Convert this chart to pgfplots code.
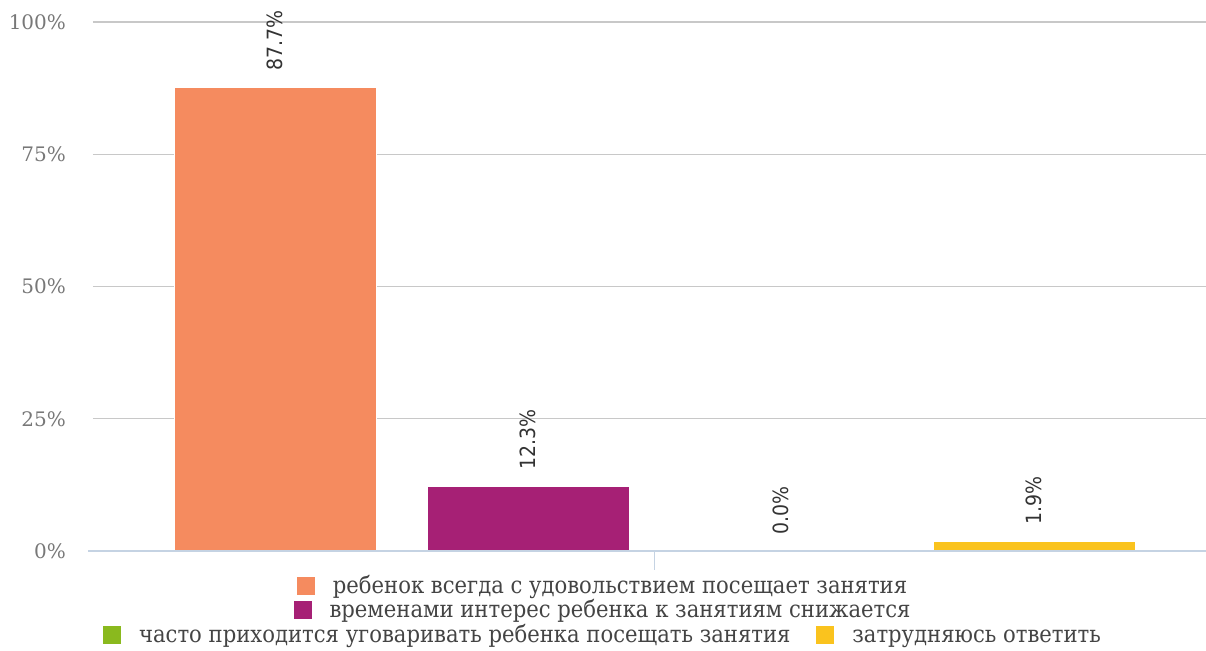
\documentclass[border=0pt]{standalone}
\usepackage{fontspec}
\setmainfont{DejaVu Serif}
\newfontfamily\legfont{DejaVu Serif Condensed}
\newfontfamily\labfont{DejaVu Sans Condensed}
\usepackage{pgfplots}
\pgfplotsset{compat=1.18}
\definecolor{c1}{RGB}{245,139,95}
\definecolor{c2}{RGB}{166,32,117}
\definecolor{c3}{RGB}{138,185,30}
\definecolor{c4}{RGB}{250,195,30}
\definecolor{gridc}{RGB}{200,200,200}
\definecolor{basec}{RGB}{197,211,227}
\definecolor{tickc}{RGB}{120,120,120}
\definecolor{labc}{RGB}{51,51,51}
\definecolor{legc}{RGB}{68,68,68}
\begin{document}
\begin{tikzpicture}
\useasboundingbox (0,0) rectangle (603pt,325pt);
\begin{axis}[
  at={(46.5pt,49.5pt)}, anchor=south west,
  scale only axis, width=556.5pt, height=264.5pt,
  xmin=-0.72, xmax=3.68, ymin=0, ymax=100,
  axis line style={draw=none},
  xtick=\empty,
  ytick={0,25,50,75,100},
  yticklabels={0\%,25\%,50\%,75\%,100\%},
  ytick style={draw=none},
  yticklabel style={font=\fontsize{10}{12}\selectfont, color=tickc, xshift=-10pt},
  /pgf/number format/assume math mode=true,
  ymajorgrids, grid style={gridc, line width=0.6pt},
  clip=false,
  nodes near coords={\pgfmathprintnumber[fixed,fixed zerofill,precision=1]{\pgfplotspointmeta}\%},
  every node near coord/.style={yshift=8pt, rotate=90, anchor=west, inner sep=0pt,
     font=\labfont\fontsize{10.5}{12}\selectfont, color=labc},
]
\addplot[ybar, bar width=0.8, fill=c1, draw=white, line width=0.3pt] coordinates {(0,87.7)};
\addplot[ybar, bar width=0.8, fill=c2, draw=white, line width=0.3pt] coordinates {(1,12.3)};
\addplot[ybar, bar width=0.8, fill=c3, draw=white, line width=0.3pt] coordinates {(2,0.0)};
\addplot[ybar, bar width=0.8, fill=c4, draw=white, line width=0.3pt] coordinates {(3,1.9)};
\draw[basec, line width=0.7pt] (axis cs:-0.74,0) -- (axis cs:3.68,0);
\draw[basec, line width=0.6pt] (axis cs:1.5,0) -- ([yshift=-9.5pt]axis cs:1.5,0);
\end{axis}
\node[font=\legfont\fontsize{11.75}{13}\selectfont, text=legc, inner sep=0pt] at (301pt,31.5pt)
  {\textcolor{c1}{\rule[-0.5pt]{9pt}{9pt}}\hspace{9pt}ребенок всегда с удовольствием посещает занятия};
\node[font=\legfont\fontsize{11.75}{13}\selectfont, text=legc, inner sep=0pt] at (301pt,19.5pt)
  {\textcolor{c2}{\rule[-0.5pt]{9pt}{9pt}}\hspace{9pt}временами интерес ребенка к занятиям снижается};
\node[font=\legfont\fontsize{11.75}{13}\selectfont, text=legc, inner sep=0pt] at (301pt,7pt)
  {\textcolor{c3}{\rule[-0.5pt]{9pt}{9pt}}\hspace{9pt}часто приходится уговаривать ребенка посещать занятия\hspace{13pt}\textcolor{c4}{\rule[-0.5pt]{9pt}{9pt}}\hspace{9pt}затрудняюсь ответить};
\end{tikzpicture}
\end{document}
